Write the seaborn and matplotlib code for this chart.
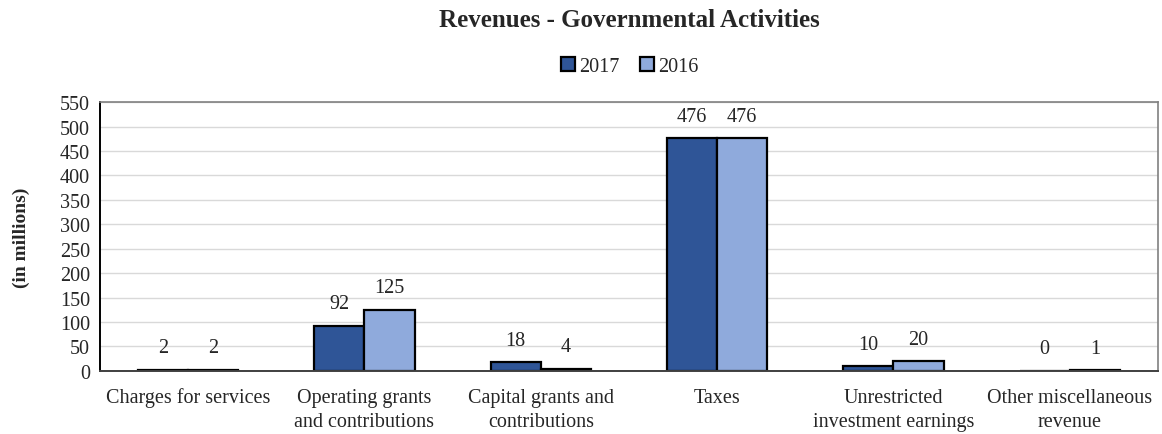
import pandas as pd
import matplotlib.pyplot as plt
import seaborn as sns
import numpy as np

# Datos del gráfico
categorias = ['Charges for services', 'Operating grants\nand contributions',
              'Capital grants and\ncontributions', 'Taxes',
              'Unrestricted\ninvestment earnings', 'Other miscellaneous\nrevenue']
valores_2017 = [2, 92, 18, 476, 10, 0]
valores_2016 = [2, 125, 4, 476, 20, 1]
anios = ['2017', '2016']
colores = ['#2F5597', '#8FAADC']

df = pd.DataFrame({
    'Categoria': categorias * 2,
    'Valor': valores_2017 + valores_2016,
    'Anio': ['2017'] * len(categorias) + ['2016'] * len(categorias),
})

sns.set_style('white')
plt.rcParams['font.family'] = ['Liberation Serif', 'DejaVu Serif']

fig = plt.figure(figsize=(11.62, 4.35), dpi=100)
ax = fig.add_axes([0.086, 0.145, 0.9105, 0.618])

sns.barplot(data=df, x='Categoria', y='Valor', hue='Anio', hue_order=anios,
            palette=colores, width=0.57, edgecolor='black', linewidth=1.6,
            saturation=1, ax=ax, legend=True)

# Etiquetas de valores
for cont in ax.containers:
    ax.bar_label(cont, padding=9, fontsize=14.5)

ax.set_ylim(0, 550)
ax.set_yticks(np.arange(0, 551, 50))
ax.set_xlim(-0.5, len(categorias) - 0.5)
ax.yaxis.grid(True, color='#D9D9D9', linewidth=1)
ax.set_axisbelow(True)

ax.set_xlabel('')
ax.set_ylabel('(in millions)', fontsize=14, fontweight='bold', labelpad=22)
ax.tick_params(axis='x', which='major', length=0, labelsize=14.5, pad=12)
for t in ax.get_xticklabels():
    t.set_linespacing(1.4)
ax.set_xticks(np.arange(-0.5, len(categorias)), minor=True)
ax.tick_params(axis='x', which='minor', length=5, direction='out', color='black')
ax.tick_params(axis='y', length=5, direction='out', labelsize=14.5, pad=2, color='black')

for lado in ['top', 'right']:
    ax.spines[lado].set_color('#808080')
    ax.spines[lado].set_linewidth(1.2)
ax.spines['left'].set_color('black')
ax.spines['left'].set_linewidth(1.4)
ax.spines['bottom'].set_color('#404040')
ax.spines['bottom'].set_linewidth(1.4)

ax.legend(loc='center', bbox_to_anchor=(0.542, 0.845), bbox_transform=fig.transFigure,
          ncol=2, frameon=False, fontsize=14.5, handlelength=0.7, handleheight=0.7,
          handletextpad=0.2, columnspacing=1.0)

fig.suptitle('Revenues - Governmental Activities', x=0.542, y=0.98,
             fontsize=18, fontweight='bold')

plt.savefig('out.png', dpi=100)
